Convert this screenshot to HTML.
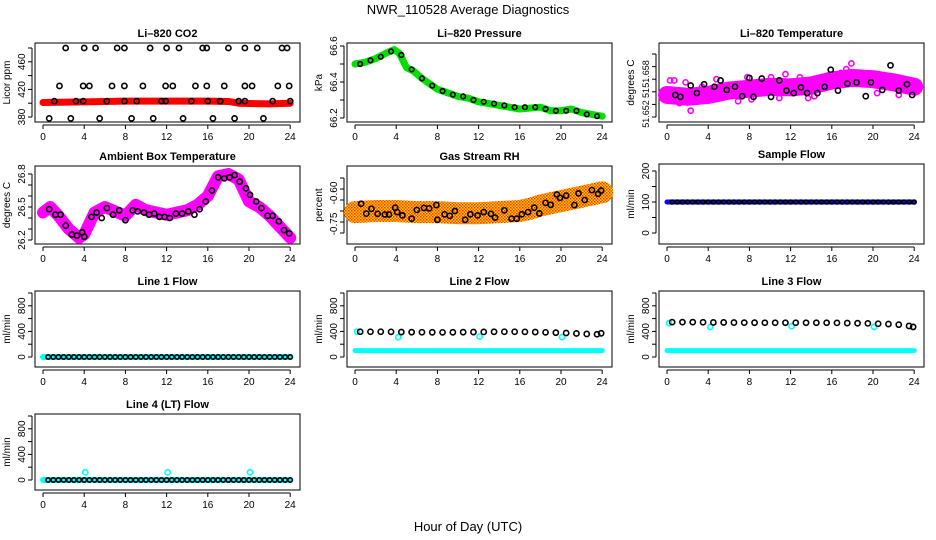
<!DOCTYPE html>
<html><head><meta charset="utf-8"><style>
html,body{margin:0;padding:0;background:#fff;}
svg{display:block;font-family:"Liberation Sans",sans-serif;}
</style></head><body>
<svg id="chart" width="936" height="540" viewBox="0 0 936 540" xmlns="http://www.w3.org/2000/svg">
<defs>
<pattern id="rhpat" width="3" height="3" patternUnits="userSpaceOnUse">
<rect width="3" height="3" fill="#ffd000"/><rect width="1.5" height="1.5" fill="#ff3000"/><rect x="1.5" y="1.5" width="1.5" height="1.5" fill="#ff5000"/>
</pattern>
</defs>
<text x="468" y="14" text-anchor="middle" font-size="13">NWR_110528  Average Diagnostics</text>
<text x="468" y="531" text-anchor="middle" font-size="13">Hour of Day (UTC)</text>
</svg>
<script>
// ---- data arrays ----
const xTicks = [0,4,8,12,16,20,24];
// CO2
const co2BandT = [0,4,8,12,16,18,19,20,22,24];
const co2BandV = [401,402,403,403,403,402.5,400,399.5,399,400];
const co2HiT = [2.2,4,5.1,7.2,7.9,10.4,12,13.2,15.5,15.9,18,19.6,20.8,23.2,23.7];
const co2HiV = [480,480,480,480,480,480,480,480,480,480,480,480,480,480,480];
const co2MidT = [1.6,3.9,4.5,6.7,7.9,9.7,11.9,12.6,14.8,15.9,17.6,19.6,20.3,22.8,23.9];
const co2MidV = [425,425,425,425,425,425,425,425,425,425,425,425,425,425,425];
const co2BaseT = [1.1,3.2,3.9,6.2,7.9,9.1,11.5,11.9,14.4,16,17.2,19,19.6,22.3,24,0.6,2.7,5.5,8.6,10.7,13.6,16.5,18.6,21.4];
const co2BaseV = [403,403,403,403,403,403,403,403,403,403,403,403,403,403,403,378,378,378,378,378,378,378,378,378];
// Pressure
const presT = [0,1,2,3,3.8,4.3,5,5.7,6.5,7,8,9,10,11,12,13,14,16,18,19,20,21,22,23,24];
const presV = [66.5,66.51,66.53,66.56,66.58,66.56,66.48,66.46,66.42,66.4,66.36,66.34,66.32,66.31,66.29,66.28,66.27,66.25,66.26,66.24,66.24,66.25,66.23,66.22,66.21];
const presDotT = [0.5,1.5,2.5,3.5,4.5,5.5,6.5,7.5,8.5,9.5,10.5,11.5,12.5,13.5,14.5,15.5,16.5,17.5,18.5,19.5,20.5,21.5,22.5,23.5];
const presDotV = [66.5,66.52,66.54,66.57,66.55,66.47,66.42,66.38,66.35,66.33,66.32,66.3,66.29,66.28,66.27,66.26,66.26,66.26,66.25,66.24,66.24,66.24,66.22,66.21];
// Li-820 temperature
const ltBandT = [0,2,4,6,8,10,12,14,16,18,20,22,24];
const ltBandV = [51.6535,51.6532,51.6535,51.6542,51.6545,51.6548,51.6547,51.655,51.6558,51.6562,51.656,51.6555,51.6548];
const ltOutT = [0.3,0.7,1.8,3.4,4.8,5.2,6.9,7.8,8.2,10.1,10.9,12.9,13.7,15.8,16.9,17.4,18.4,19.6,21.7,22.5,23.8,2.3,6.2,9.4,14.3,20.4,1.2,3.0,11.5,17.9];
const ltOutV = [51.6558,51.6558,51.6555,51.6548,51.656,51.6533,51.6525,51.6563,51.6528,51.6563,51.653,51.6563,51.653,51.6567,51.657,51.6576,51.6565,51.6568,51.6562,51.6535,51.6555,51.651,51.6535,51.6538,51.6533,51.6538,51.6522,51.6527,51.6568,51.6585];
const ltDotT = [0.8,1.3,2.3,2.9,3.6,4.6,5.2,5.8,6.6,7.3,8.0,8.4,9.2,10.1,10.9,11.6,12.3,13.0,13.6,14.6,15.3,15.9,16.6,17.5,18.4,19.3,19.8,20.9,21.7,22.5,23.3,23.8];
const ltDotV = [51.6535,51.6532,51.655,51.6538,51.6552,51.6548,51.6558,51.6543,51.6548,51.6533,51.6562,51.6532,51.6561,51.6532,51.6558,51.6542,51.6538,51.6547,51.6538,51.6538,51.6548,51.6575,51.6542,51.6553,51.6555,51.6533,51.6555,51.6543,51.6582,51.6542,51.6552,51.6535];
// Ambient box temperature
const ambT = [0,0.7,1.5,2.5,3.5,4,5,6,7,8,9,10,12,14,15,16,17,18,19,20,21,22,23,24];
const ambV = [26.45,26.5,26.42,26.3,26.22,26.25,26.45,26.5,26.46,26.42,26.52,26.47,26.43,26.47,26.52,26.6,26.78,26.8,26.75,26.55,26.5,26.42,26.32,26.22];
const ambDotT = [0.6,1.2,1.7,2.2,2.8,3.3,3.8,4.0,4.7,5.2,5.7,6.2,6.8,7.4,8,8.7,9.2,9.8,10.3,10.8,11.3,11.8,12.3,12.9,13.5,14.1,14.7,15.2,15.8,16.4,17,17.6,18.1,18.6,19.1,19.7,20.1,20.7,21.2,21.8,22.3,22.9,23.4,23.9];
const ambDotV = [26.48,26.43,26.43,26.33,26.25,26.24,26.27,26.23,26.41,26.45,26.4,26.49,26.43,26.47,26.38,26.47,26.46,26.45,26.43,26.44,26.41,26.41,26.4,26.44,26.44,26.46,26.43,26.48,26.55,26.65,26.77,26.76,26.77,26.79,26.73,26.67,26.61,26.55,26.49,26.42,26.42,26.37,26.29,26.26];
// Gas stream RH
const rhT = [0,2,4,6,8,10,12,14,16,17,18,19,20,21,22,23,24];
const rhV = [-0.705,-0.70,-0.70,-0.705,-0.705,-0.71,-0.71,-0.705,-0.70,-0.69,-0.675,-0.665,-0.655,-0.645,-0.635,-0.625,-0.615];
const rhDotT = [0.6,1.1,1.6,2.2,2.9,3.3,3.9,4.1,4.6,5.5,6.0,6.7,7.2,7.9,8.0,8.7,9.2,9.7,10.7,11.2,11.9,12.5,13.2,13.6,14.5,15.2,15.7,16.2,16.8,17.4,17.9,18.5,19.0,19.6,19.9,20.5,21.3,21.7,22.3,23.0,23.6,23.9];
const rhDotV = [-0.667,-0.712,-0.690,-0.713,-0.716,-0.716,-0.685,-0.705,-0.72,-0.735,-0.695,-0.686,-0.688,-0.673,-0.740,-0.715,-0.722,-0.70,-0.74,-0.715,-0.72,-0.705,-0.713,-0.730,-0.697,-0.735,-0.735,-0.715,-0.705,-0.685,-0.711,-0.663,-0.672,-0.625,-0.640,-0.63,-0.673,-0.620,-0.650,-0.605,-0.622,-0.607];
// Sample flow
const sfBandT = [0,24];
const sfBandV = [100,100];
// Line flows
const l1CyanV = [0,0];
const l2CyanV = [100,100];
const hourT = [0.5,1.5,2.5,3.5,4.5,5.5,6.5,7.5,8.5,9.5,10.5,11.5,12.5,13.5,14.5,15.5,16.5,17.5,18.5,19.5,20.5,21.5,22.5,23.5,23.9];
const l2BlackV = [395,395,395,393,390,388,387,386,385,386,388,390,392,394,395,395,393,390,385,380,375,368,360,355,370];
const l2CyanOutT = [0.2,4.2,12.1,20.1];
const l2CyanOutV = [395,310,320,310];
const l3CyanV = [100,100];
const l3BlackV = [545,545,545,543,540,540,538,537,536,535,535,535,535,535,535,535,533,530,528,525,520,515,505,485,470];
const l3CyanOutT = [0.2,4.2,12.1,20.1];
const l3CyanOutV = [530,470,480,470];
const l4CyanOutT = [4.1,12.1,20.1];
const l4CyanOutV = [120,120,120];
const lineT = [0,24];
const zeroDotT = [0.5,1,1.5,2,2.5,3,3.5,4,4.5,5,5.5,6,6.5,7,7.5,8,8.5,9,9.5,10,10.5,11,11.5,12,12.5,13,13.5,14,14.5,15,15.5,16,16.5,17,17.5,18,18.5,19,19.5,20,20.5,21,21.5,22,22.5,23,23.5,24];

// ---- drawing ----
const svg = document.getElementById('chart');
const NS = 'http://www.w3.org/2000/svg';
function mk(tag, attrs, parent){const e=document.createElementNS(NS,tag);for(const k in attrs)e.setAttribute(k,attrs[k]);(parent||svg).appendChild(e);return e;}

function panel(cfg){
  const g = mk('g',{});
  
  
  const [L,T,R,B] = cfg.box;
  const xs = t => L + 8 + t*10.3;
  const ys = v => cfg.r0[1] + (v-cfg.r0[0])*(cfg.r1[1]-cfg.r0[1])/(cfg.r1[0]-cfg.r0[0]);
  const frame = mk('rect',{x:L,y:T,width:R-L,height:B-T,fill:'none',stroke:'#000','stroke-width':1},g);
  
  
  const title = mk('text',{x:(L+R)/2,y:T-6,'text-anchor':'middle','font-size':11,'font-weight':'bold'},g);
  title.textContent = cfg.title;
  
  
  const xa = mk('g',{},g);
  
  
  mk('line',{x1:xs(0),x2:xs(24),y1:B+3,y2:B+3,stroke:'#000'},xa);
  xTicks.forEach(t=>{
    mk('line',{x1:xs(t),x2:xs(t),y1:B+3,y2:B+7,stroke:'#000'},xa);
    const tx = mk('text',{x:xs(t),y:B+18,'text-anchor':'middle','font-size':10},xa);
    tx.textContent = t;
  });
  const ya = mk('g',{},g);
  
  
  const tk = cfg.ticks;
  mk('line',{x1:L-3,x2:L-3,y1:ys(tk[0]),y2:ys(tk[tk.length-1]),stroke:'#000'},ya);
  tk.forEach(v=>mk('line',{x1:L-3,x2:L-7,y1:ys(v),y2:ys(v),stroke:'#000'},ya));
  cfg.labels.forEach(lb=>{
    const y = lb[2]!==undefined ? lb[2] : ys(lb[0]);
    const tx = mk('text',{x:L-10,y:y,'text-anchor':'middle','font-size':lb[3]||10,transform:`rotate(-90 ${L-10} ${y})`},ya);
    tx.textContent = lb[1];
  });
  const yl = mk('text',{x:L-25,y:(T+B)/2,'text-anchor':'middle','font-size':10,transform:`rotate(-90 ${L-25} ${(T+B)/2})`},g);
  yl.textContent = cfg.ylab;
  
  
  cfg.draw(g, xs, ys);
}
function band(g, xs, ys, T, V, color, w, name){
  const p = mk('polyline',{points:T.map((t,i)=>xs(t)+','+ys(V[i])).join(' '),fill:'none',stroke:color,'stroke-width':w,'stroke-linejoin':'round','stroke-linecap':'round'},g);
  
  
}
function dots(g, xs, ys, T, V, color, name, r){
  const gg = mk('g',{},g);
  
  
  T.forEach((t,i)=>mk('circle',{cx:xs(t),cy:ys(V[i]),r:r||2.6,fill:'none',stroke:color,'stroke-width':1.6},gg));
}
const zeros = zeroDotT.map(()=>0);

panel({name:'co2-panel',title:'Li\u2013820 CO2',box:[35,43,300,122],r0:[380,117],r1:[480,48],ticks:[380,400,420,440,460,480],labels:[[380,'380'],[420,'420'],[460,'460']],ylab:'Licor ppm',
 draw:(g,xs,ys)=>{band(g,xs,ys,co2BandT,co2BandV,'#f00',7,'co2-band');dots(g,xs,ys,co2HiT,co2HiV,'#000','co2-high-points');dots(g,xs,ys,co2MidT,co2MidV,'#000','co2-mid-points');dots(g,xs,ys,co2BaseT,co2BaseV,'#000','co2-base-points');}});
panel({name:'pressure-panel',title:'Li\u2013820 Pressure',box:[347,43,612,122],r0:[66.2,118],r1:[66.6,46],ticks:[66.2,66.3,66.4,66.5,66.6],labels:[[66.2,'66.2'],[66.4,'66.4'],[66.6,'66.6']],ylab:'kPa',
 draw:(g,xs,ys)=>{band(g,xs,ys,presT,presV,'#00e000',7,'pressure-band');dots(g,xs,ys,presDotT,presDotV,'#000','pressure-points',2.3);}});
panel({name:'li820-temp-panel',title:'Li\u2013820 Temperature',box:[659,43,924,122],r0:[51.650,117],r1:[51.660,54],ticks:[51.650,51.652,51.654,51.656,51.658,51.660],labels:[[0,'51.652',114,9],[0,'51',93,9],[0,'51.658',74,9]],ylab:'degrees C',
 draw:(g,xs,ys)=>{band(g,xs,ys,ltBandT,ltBandV,'#ff00ff',18,'li820-temp-band');dots(g,xs,ys,ltOutT,ltOutV,'#ff00ff','li820-temp-outliers');dots(g,xs,ys,ltDotT,ltDotV,'#000','li820-temp-points');}});
panel({name:'ambient-temp-panel',title:'Ambient Box Temperature',box:[35,166,300,244],r0:[26.2,240],r1:[26.8,174],ticks:[26.2,26.3,26.4,26.5,26.6,26.7,26.8],labels:[[26.2,'26.2'],[26.5,'26.5'],[26.8,'26.8']],ylab:'degrees C',
 draw:(g,xs,ys)=>{band(g,xs,ys,ambT,ambV,'#ff00ff',12,'ambient-temp-band');dots(g,xs,ys,ambDotT,ambDotV,'#000','ambient-temp-points');}});
panel({name:'rh-panel',title:'Gas Stream RH',box:[347,166,612,244],r0:[-0.8,233],r1:[-0.55,178],ticks:[-0.8,-0.75,-0.7,-0.65,-0.6,-0.55],labels:[[0,'-0.75',224],[0,'-0.60',193]],ylab:'percent',
 draw:(g,xs,ys)=>{band(g,xs,ys,rhT,rhV,'url(#rhpat)',22,'rh-band');dots(g,xs,ys,rhDotT,rhDotV,'#000','rh-points');}});
panel({name:'sample-flow-panel',title:'Sample Flow',box:[659,164,924,244],r0:[0,233],r1:[200,171],ticks:[0,50,100,150,200],labels:[[0,'0'],[100,'100'],[200,'200']],ylab:'ml/min',
 draw:(g,xs,ys)=>{band(g,xs,ys,sfBandT,sfBandV,'#0000ff',5,'sample-flow-band');dots(g,xs,ys,zeroDotT,zeroDotT.map(()=>100),'#000','sample-flow-points',2);}});
const flowTicks=[0,200,400,600,800,1000], flowLabels=[[0,'0'],[400,'400'],[800,'800']];
panel({name:'line1-flow-panel',title:'Line 1 Flow',box:[35,291,300,367],r0:[0,357],r1:[1000,293],ticks:flowTicks,labels:flowLabels,ylab:'ml/min',
 draw:(g,xs,ys)=>{band(g,xs,ys,lineT,l1CyanV,'#00ffff',6,'line1-cyan-band');dots(g,xs,ys,zeroDotT,zeros,'#000','line1-points',2.2);}});
panel({name:'line2-flow-panel',title:'Line 2 Flow',box:[347,291,612,367],r0:[0,357],r1:[1000,293],ticks:flowTicks,labels:flowLabels,ylab:'ml/min',
 draw:(g,xs,ys)=>{band(g,xs,ys,lineT,l2CyanV,'#00ffff',5,'line2-cyan-band');dots(g,xs,ys,l2CyanOutT,l2CyanOutV,'#00ffff','line2-cyan-points');dots(g,xs,ys,hourT,l2BlackV,'#000','line2-black-points');}});
panel({name:'line3-flow-panel',title:'Line 3 Flow',box:[659,291,924,367],r0:[0,357],r1:[1000,293],ticks:flowTicks,labels:flowLabels,ylab:'ml/min',
 draw:(g,xs,ys)=>{band(g,xs,ys,lineT,l3CyanV,'#00ffff',5,'line3-cyan-band');dots(g,xs,ys,l3CyanOutT,l3CyanOutV,'#00ffff','line3-cyan-points');dots(g,xs,ys,hourT,l3BlackV,'#000','line3-black-points');}});
panel({name:'line4-flow-panel',title:'Line 4 (LT) Flow',box:[35,414,300,490],r0:[0,480],r1:[1000,416],ticks:flowTicks,labels:flowLabels,ylab:'ml/min',
 draw:(g,xs,ys)=>{band(g,xs,ys,lineT,l1CyanV,'#00ffff',6,'line4-cyan-band');dots(g,xs,ys,l4CyanOutT,l4CyanOutV,'#00ffff','line4-cyan-outliers');dots(g,xs,ys,zeroDotT,zeros,'#000','line4-points',2.2);}});
</script>
</body></html>
